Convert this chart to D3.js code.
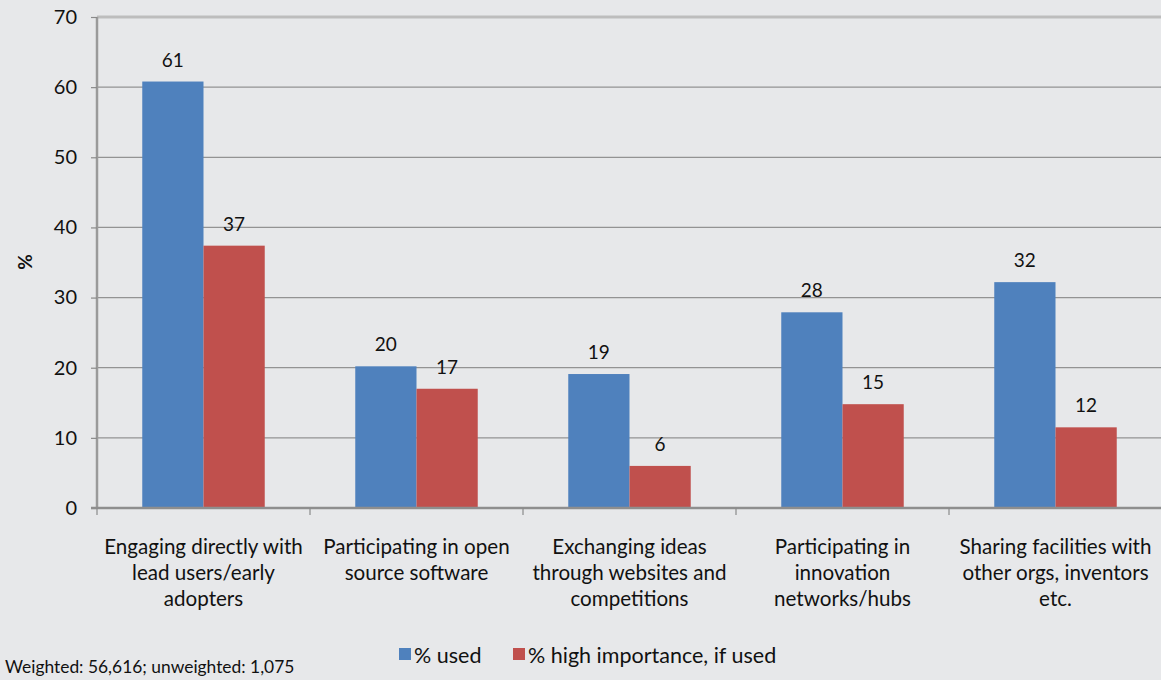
<!DOCTYPE html>
<html><head><meta charset="utf-8">
<script src="https://cdn.jsdelivr.net/npm/d3@7"></script>
<style>
html,body{margin:0;padding:0;background:#e7e8ea;}
svg{display:block;font-family:Lato, "Open Sans", sans-serif;}
</style></head>
<body>
<svg id="c" width="1161" height="680"></svg>
<script>
const categories = [
  ["Engaging directly with","lead users/early","adopters"],
  ["Participating in open","source software"],
  ["Exchanging ideas","through websites and","competitions"],
  ["Participating in","innovation","networks/hubs"],
  ["Sharing facilities with","other orgs, inventors","etc."]
];
const seriesNames = ["% used", "% high importance, if used"];
const usedValues = [60.8, 20.2, 19.1, 27.9, 32.2];
const highValues = [37.4, 17.0, 6.0, 14.8, 11.5];
const yTicks = [0,10,20,30,40,50,60,70];
const colors = ["#4f81bd", "#c0504d"];
const footnote = "Weighted: 56,616; unweighted: 1,075";

(function(){
const svg = d3.select("#c");
const pL = 97, pR = 1162, pT = 17, pB = 508;
const idx = categories.map((d,i)=>i);
const x0 = d3.scaleBand().domain(idx).range([pL, pR]).padding(0);
const gw = x0.bandwidth();
const x1 = d3.scaleBand().domain([0,1]).range([gw*0.2125, gw*0.7875]).padding(0);
const y = d3.scaleLinear().domain([0,70]).range([pB, pT]);

// gridlines
svg.append("g").selectAll("line").data(yTicks.filter(t=>t>0 && t<70)).join("line")
  .attr("x1", pL).attr("x2", 1161).attr("y1", d=>y(d)).attr("y2", d=>y(d))
  .attr("stroke", "#939393").attr("stroke-width", 1.2);
svg.append("line").attr("x1", pL).attr("x2", 1161).attr("y1", y(70)).attr("y2", y(70))
  .attr("stroke", "#bdbdbd").attr("stroke-width", 3);

// bars
const data = idx.map(i => [usedValues[i], highValues[i]]);
const groups = svg.append("g").selectAll("g").data(data).join("g")
  .attr("transform", (d,i)=>`translate(${x0(i)},0)`);
groups.selectAll("rect").data(d=>d).join("rect")
  .attr("x", (d,j)=>x1(j)).attr("width", x1.bandwidth())
  .attr("y", d=>y(d)).attr("height", d=>pB - y(d))
  .attr("fill", (d,j)=>colors[j]);
groups.selectAll("text").data(d=>d).join("text")
  .attr("x", (d,j)=>x1(j) + x1.bandwidth()/2)
  .attr("y", d=>y(d) - 15)
  .attr("text-anchor", "middle").attr("font-size", 19).attr("fill", "#111")
  .text(d=>Math.round(d));

// y axis
const yAxis = d3.axisLeft(y).tickValues(yTicks).tickSize(6).tickPadding(14).tickFormat(d3.format("d"));
const ya = svg.append("g").attr("transform", `translate(${pL},0)`).call(yAxis);
ya.select(".domain").attr("stroke", "#9a9a9a").attr("stroke-width", 2.5).attr("d", `M0,${pT}V${pB}`);
ya.selectAll(".tick line").attr("stroke", "#8a8a8a").attr("stroke-width", 1.2);
ya.selectAll(".tick text").attr("font-size", 20).attr("fill", "#111").attr("font-family", "Lato, sans-serif");

// x axis
svg.append("line").attr("x1", pL-6).attr("x2", 1161).attr("y1", pB).attr("y2", pB)
  .attr("stroke", "#8e8e8e").attr("stroke-width", 2.5);
const bounds = idx.map(i=>x0(i));
svg.append("g").selectAll("line").data(bounds).join("line")
  .attr("x1", d=>d).attr("x2", d=>d).attr("y1", pB).attr("y2", pB+7)
  .attr("stroke", "#8a8a8a").attr("stroke-width", 1.2);

// category labels
const cl = svg.append("g").selectAll("text").data(categories).join("text")
  .attr("text-anchor", "middle").attr("font-size", 20.6).attr("fill", "#111");
cl.each(function(lines, i){
  d3.select(this).selectAll("tspan").data(lines).join("tspan")
    .attr("x", x0(i) + gw/2).attr("y", (d,k)=>554 + k*26).text(d=>d);
});

// y title
svg.append("text").attr("transform", "translate(32,262) rotate(-90)")
  .attr("text-anchor", "middle").attr("font-size", 19).attr("font-weight", "bold").attr("fill", "#111").text("%");

// legend
const lg = svg.append("g");
const legendX = [399, 513];
seriesNames.forEach((n,j)=>{
  lg.append("rect").attr("x", legendX[j]).attr("y", 648).attr("width", 12).attr("height", 12).attr("fill", colors[j]);
  lg.append("text").attr("x", legendX[j]+15).attr("y", 663).attr("font-size", 21.5).attr("fill", "#111").text(n);
});

// footnote
svg.append("text").attr("x", 5).attr("y", 673).attr("font-size", 17.4).attr("fill", "#111").text(footnote);
})();
</script>
</body></html>
